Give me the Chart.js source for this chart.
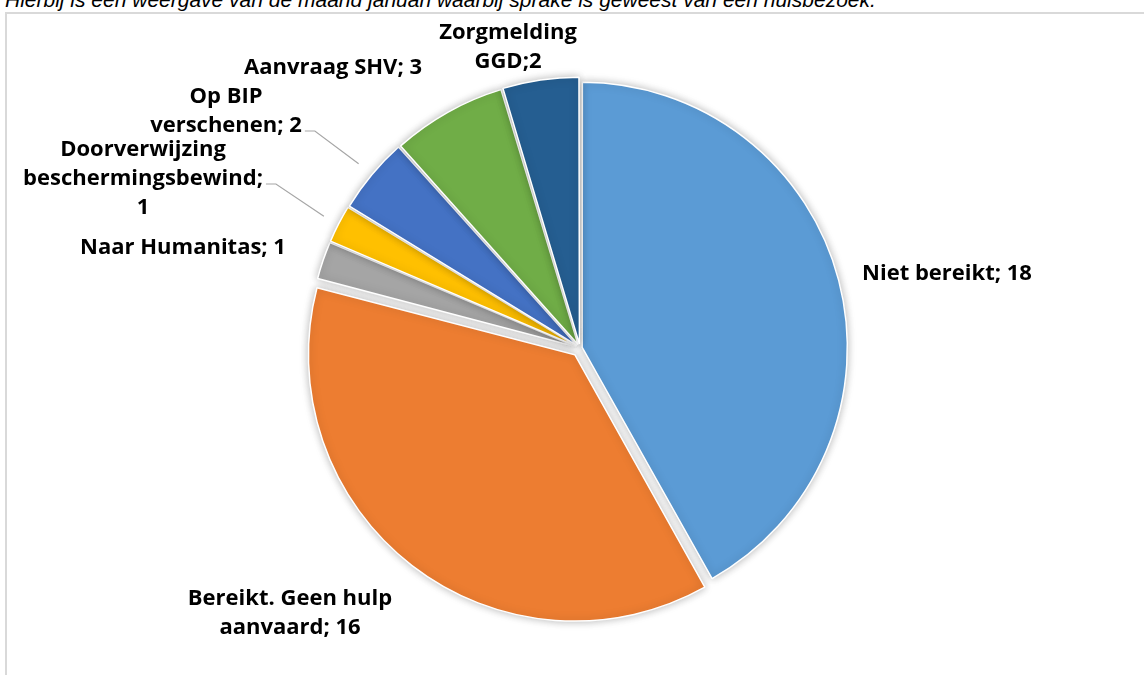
<!DOCTYPE html>
<html>
<head>
<meta charset="utf-8">
<script src="https://cdn.jsdelivr.net/npm/chart.js@4.4.1/dist/chart.umd.min.js"></script>
<style>
  html, body { margin: 0; padding: 0; background: #fff; overflow: hidden; }
  #wrap { position: relative; width: 1144px; height: 675px; overflow: hidden; }
  #caption { position: absolute; left: 5px; top: -12px; font: italic 21px "Liberation Sans", Arial, sans-serif; color: #000; white-space: nowrap; }
  #frame { position: absolute; left: 5px; top: 12px; width: 1200px; height: 700px; border: 2px solid #d9d9d9; }
  #chartPie { position: absolute; left: 0; top: 0; }
</style>
</head>
<body>
<div id="wrap">
  <div id="caption">Hierbij is een weergave van de maand januari waarbij sprake is geweest van een huisbezoek.</div>
  <div id="frame"></div>
  <canvas id="chartPie" width="1144" height="675"></canvas>
</div>
<script>
// Huisbezoeken januari — uitkomsten

const categories = ['Niet bereikt', 'Bereikt. Geen hulp aanvaard', 'Naar Humanitas', 'Doorverwijzing beschermingsbewind', 'Op BIP verschenen', 'Aanvraag SHV', 'Zorgmelding GGD'];
const values = [18, 16, 1, 1, 2, 3, 2];
const colors = ['#5b9bd5', '#ed7d31', '#a5a5a5', '#ffc000', '#4472c4', '#70ad47', '#255e91'];
const explode = [9, 34, 16, 16, 16, 16, 16];

// plaatsing van de labels t.o.v. het middelpunt (Excel "best fit")
const labelLayout = [
  { dx: 367, dy: -74, maxWidth: 400 },
  { dx: -290, dy: 251, maxWidth: 230 },
  { dx: -397, dy: -100, maxWidth: 400 },
  { dx: -437, dy: -198, maxWidth: 245, leader: 24 },
  { dx: -354, dy: -251, maxWidth: 175, leader: 24 },
  { dx: -247, dy: -280, maxWidth: 400 },
  { dx: -72, dy: -315, maxWidth: 150, sep: ';' },
];

const labelFont = 'bold 22px "Open Sans", sans-serif';
const lineHeight = 29;

const wrapText = (ctx, text, maxWidth) => {
  const words = text.split(' ');
  const lines = [];
  let cur = '';
  words.forEach((w) => {
    const test = cur ? `${cur} ${w}` : w;
    if (cur && ctx.measureText(test).width > maxWidth) {
      lines.push(cur);
      cur = w;
    } else {
      cur = test;
    }
  });
  if (cur) lines.push(cur);
  return lines;
};

const pieDecor = {
  id: 'pieDecor',
  beforeDatasetsDraw(chart) {
    const { ctx } = chart;
    ctx.save();
    ctx.shadowColor = 'rgba(0,0,0,0.28)';
    ctx.shadowBlur = 8;
  },
  afterDatasetsDraw(chart) {
    const { ctx } = chart;
    ctx.restore();

    const meta = chart.getDatasetMeta(0);
    ctx.save();
    ctx.font = labelFont;
    ctx.fillStyle = '#000';
    ctx.textAlign = 'center';
    ctx.textBaseline = 'middle';

    meta.data.forEach((arc, i) => {
      const lay = labelLayout[i];
      const text = `${categories[i]}${lay.sep ?? '; '}${values[i]}`;
      const lines = wrapText(ctx, text, lay.maxWidth);
      const x = arc.x + lay.dx;
      const y = arc.y + lay.dy;
      lines.forEach((l, k) => ctx.fillText(l, x, y + k * lineHeight));

      if (lay.leader) {
        // leader line from the label to the slice
        const k = lines.length > 2 ? 1 : lines.length - 1;
        const w = ctx.measureText(lines[k]).width;
        const sx = x + w / 2 + 3;
        const sy = y + k * lineHeight + 5;
        const mid = (arc.startAngle + arc.endAngle) / 2;
        const r = arc.outerRadius + lay.leader;
        ctx.beginPath();
        ctx.moveTo(sx, sy);
        ctx.lineTo(sx + 10, sy);
        ctx.lineTo(arc.x + Math.cos(mid) * r, arc.y + Math.sin(mid) * r);
        ctx.strokeStyle = '#a6a6a6';
        ctx.lineWidth = 1.2;
        ctx.stroke();
      }
    });
    ctx.restore();
  },
};

new Chart(document.getElementById('chartPie'), {
  type: 'pie',
  data: {
    labels: categories,
    datasets: [{
      data: values,
      backgroundColor: colors,
      borderColor: '#ffffff',
      borderWidth: 1.5,
      offset: explode,
    }],
  },
  options: {
    responsive: false,
    animation: false,
    events: [],
    radius: 264,
    layout: { padding: { left: 16, top: 21, right: 0, bottom: 0 } },
    plugins: { legend: { display: false }, tooltip: { enabled: false } },
  },
  plugins: [pieDecor],
});
</script>
</body>
</html>
